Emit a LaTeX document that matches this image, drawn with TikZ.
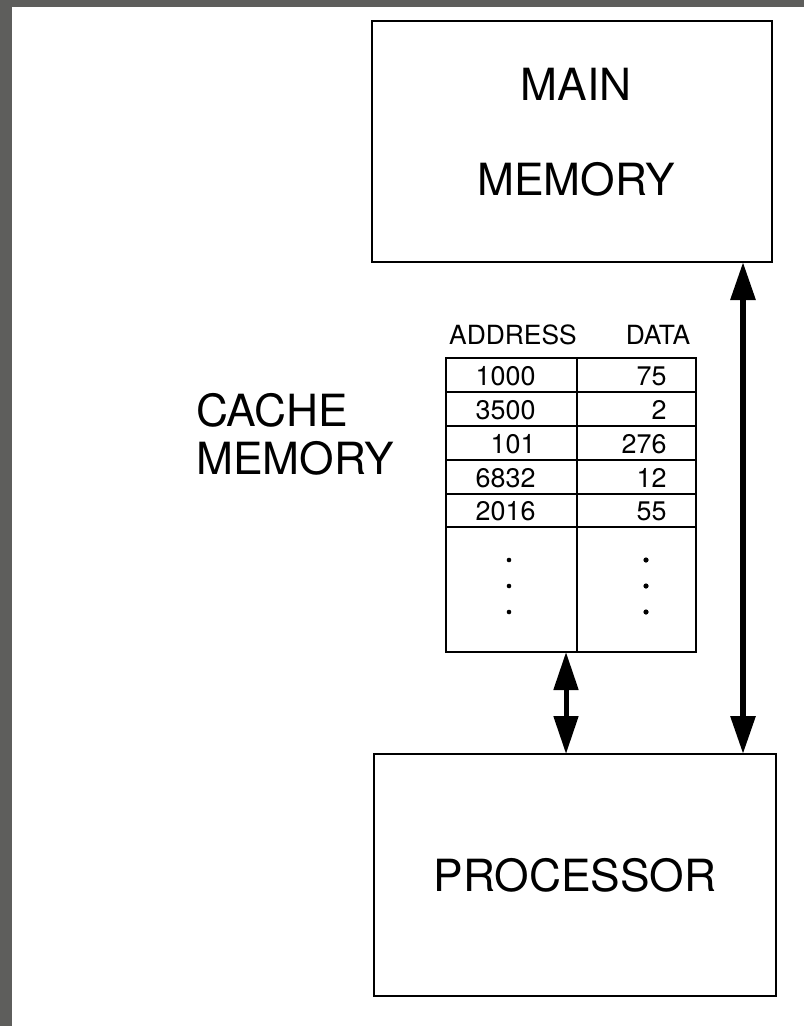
\documentclass[tikz,border=0pt]{standalone}
\usepackage{fontspec}
\setmainfont{TeX Gyre Heros}
\usepackage{tikz}
\usetikzlibrary{arrows.meta}
\definecolor{framecol}{rgb}{0.37,0.37,0.36}
\tikzset{
  unitbox/.style={draw=black, line width=2.2bp, minimum width=#1, inner sep=0pt, outer sep=0pt},
  bigtext/.style={font=\fontsize{44.5}{48}\selectfont},
  headtext/.style={font=\fontsize{26.5}{28}\selectfont},
  celltext/.style={font=\fontsize{27}{28}\selectfont},
  cell/.style={draw=black, line width=1.8bp, inner sep=0pt, outer sep=0pt, minimum height=34bp},
  bus/.style={line width=#1, {Triangle[length=38bp,width=24bp]}-{Triangle[length=38bp,width=24bp]}},
}
\begin{document}
\begin{tikzpicture}[x=1bp,y=-1bp,line join=miter]
\useasboundingbox (0,0) rectangle (804,1026);
% scan frame
\fill[framecol] (0,0) rectangle (804,1026);
\fill[white] (12,7) rectangle (804,1026);
%%
% Node: main memory
\node (mem) [unitbox=400bp, minimum height=241bp] at (572,141.5) {};
\node (memlbl) [bigtext, font=\fontsize{44.5}{95}\selectfont, align=center] at (576,132.5) {MAIN\\MEMORY};
% Node: processor
\node (proc) [unitbox=402bp, minimum height=242bp] at (575,875) {};
\node (proclbl) [bigtext] at (575,875) {PROCESSOR};
% Node: cache label
\node (cachelbl) [bigtext, align=left, anchor=west, inner sep=0pt] at (196,434) {CACHE\\MEMORY};
% Node: cache table head
\node (hadr) [headtext] at (513,335) {ADDRESS};
\node (hdat) [headtext] at (658,335) {DATA};
% Node: cache rows
\node (a1) [cell, minimum width=131bp] at (511.5,375) {};
\node (d1) [cell, minimum width=119bp] at (636.5,375) {};
\node (a2) [cell, minimum width=131bp] at (511.5,409) {};
\node (d2) [cell, minimum width=119bp] at (636.5,409) {};
\node (a3) [cell, minimum width=131bp] at (511.5,443) {};
\node (d3) [cell, minimum width=119bp] at (636.5,443) {};
\node (a4) [cell, minimum width=131bp] at (511.5,477) {};
\node (d4) [cell, minimum width=119bp] at (636.5,477) {};
\node (a5) [cell, minimum width=131bp] at (511.5,510.5) {};
\node (d5) [cell, minimum width=119bp] at (636.5,510.5) {};
\node (a6) [cell, minimum width=131bp, minimum height=125bp] at (511.5,589.5) {};
\node (d6) [cell, minimum width=119bp, minimum height=125bp] at (636.5,589.5) {};
% cell entries
\node [celltext, anchor=east] at (539,376) {1000};
\node [celltext, anchor=east] at (670,376) {75};
\node [celltext, anchor=east] at (539,410) {3500};
\node [celltext, anchor=east] at (670,410) {2};
\node [celltext, anchor=east] at (539,444) {101};
\node [celltext, anchor=east] at (670,444) {276};
\node [celltext, anchor=east] at (539,478) {6832};
\node [celltext, anchor=east] at (670,478) {12};
\node [celltext, anchor=east] at (539,511) {2016};
\node [celltext, anchor=east] at (670,511) {55};
% dots
\fill (509,560) circle (2.3bp) (509,586) circle (2.3bp) (509,612) circle (2.3bp);
\fill (646,560) circle (2.6bp) (646,586) circle (2.6bp) (646,612) circle (2.6bp);
%%
\coordinate (busr) at (743,0);
\coordinate (busl) at (566,0);
% Edge: main memory <-> processor
\draw [bus=6bp] (mem.south -| busr) -- (proc.north -| busr);
% Edge: cache <-> processor
\draw [bus=5bp] (a6.south -| busl) -- (proc.north -| busl);
%
\end{tikzpicture}
\end{document}
